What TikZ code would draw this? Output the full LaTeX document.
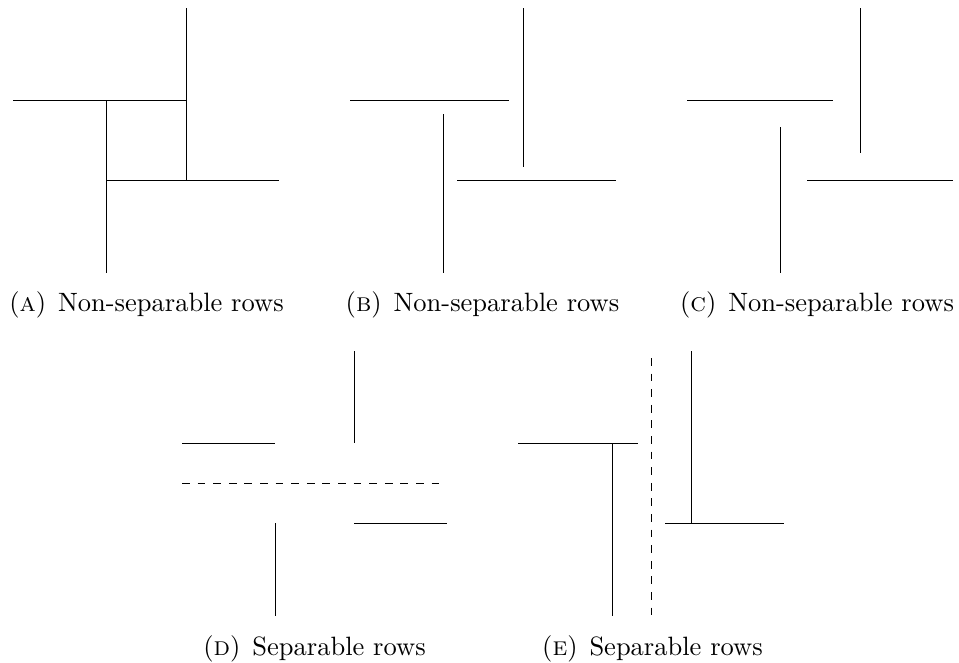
\documentclass[tikz,border=0pt]{standalone}
\begin{document}
\begin{tikzpicture}[x=1pt,y=-1pt,
  seg/.style={line width=1pt,black},
  sepline/.style={line width=1pt,black,dash pattern=on 7.8pt off 7.8pt},
  subcap/.style={anchor=base,inner sep=0pt,scale=2.65,font=\normalsize}]
\useasboundingbox (0,0) rectangle (959,662);
% Panel A
\draw[seg] (13,100) -- (186,100);
\draw[seg] (186,8) -- (186,180);
\draw[seg] (106,100) -- (106,273);
\draw[seg] (106,180) -- (279,180);
\node[subcap] (la) at (146.5,311.5) {(\textsc{a})\hspace{0.45em}Non-separable rows};
% Panel B
\draw[seg] (350,100) -- (509,100);
\draw[seg] (523,8) -- (523,167);
\draw[seg] (443,114) -- (443,273);
\draw[seg] (457,180) -- (616,180);
\node[subcap] (lb) at (482.5,311.5) {(\textsc{b})\hspace{0.45em}Non-separable rows};
% Panel C
\draw[seg] (687,100) -- (833,100);
\draw[seg] (860,8) -- (860,153);
\draw[seg] (780,127) -- (780,273);
\draw[seg] (807,180) -- (953,180);
\node[subcap] (lc) at (817,311.5) {(\textsc{c})\hspace{0.45em}Non-separable rows};
% Panel D
\draw[seg] (182,443) -- (275,443);
\draw[seg] (354,351) -- (354,443);
\draw[sepline] (182,483) -- (441,483);
\draw[seg] (275,523) -- (275,616);
\draw[seg] (354,523) -- (447,523);
\node[subcap] (ld) at (314.5,655) {(\textsc{d})\hspace{0.45em}Separable rows};
% Panel E
\draw[seg] (518,443) -- (638,443);
\draw[seg] (612,443) -- (612,616);
\draw[sepline] (651,358) -- (651,616);
\draw[seg] (691,351) -- (691,523);
\draw[seg] (665,523) -- (784,523);
\node[subcap] (le) at (652.5,655) {(\textsc{e})\hspace{0.45em}Separable rows};
\end{tikzpicture}
\end{document}
